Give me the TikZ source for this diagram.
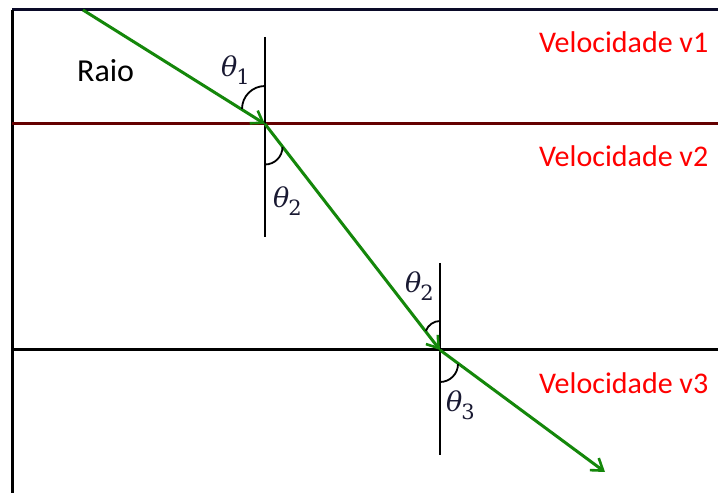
\documentclass[tikz,border=0pt]{standalone}
\usepackage{fontspec}
\setmainfont{Carlito}
\newfontfamily\thfont{DejaVu Serif}
\usetikzlibrary{arrows.meta}
\definecolor{raygreen}{RGB}{20,135,10}
\definecolor{maroonline}{RGB}{100,0,0}
\definecolor{navyline}{RGB}{10,10,40}
\definecolor{thetacol}{RGB}{25,25,50}
\newcommand{\thsym}[1]{{\itshape θ}\kern-1pt\raisebox{-8pt}{\upshape\fontsize{21}{21}\selectfont #1}}
\begin{document}
\begin{tikzpicture}[x=1pt,y=1pt,
  ray/.style={draw=raygreen,line width=3pt,-{Straight Barb[length=11pt,width=15pt,line width=2.6pt]}},
  normal/.style={draw=black,line width=1.1pt},
  anglearc/.style={draw=black,line width=1.8pt},
  vlabel/.style={anchor=base west,inner sep=0pt,text=red,font=\fontsize{30}{34}\selectfont},
  thlabel/.style={anchor=base west,inner sep=0pt,text=thetacol,font=\thfont\fontsize{27}{30}\selectfont}
]
\useasboundingbox[fill=white] (0,0) rectangle (718,493);
% frame and interfaces
\coordinate (TL) at (12,483);
\coordinate (TR) at (718,483);
\coordinate (BL) at (12,0);
\coordinate (L1a) at (12,369);
\coordinate (L1b) at (718,369);
\coordinate (L2a) at (12,143);
\coordinate (L2b) at (718,143);
\draw[navyline,line width=3pt] (TL) -- (TR);
\draw[black,line width=3pt] (TL) -- (BL);
\draw[maroonline,line width=3pt] (L1a) -- (L1b);
\draw[black,line width=3pt] (L2a) -- (L2b);
% normals
\coordinate (N1a) at (265,456);
\coordinate (N1b) at (265,256);
\coordinate (N2a) at (440,230);
\coordinate (N2b) at (440,38);
\draw[normal] (N1a) -- (N1b);
\draw[normal] (N2a) -- (N2b);
% ray
\coordinate (P0) at (83,483);
\coordinate (P1) at (265,369);
\coordinate (P2) at (440,143);
\coordinate (P3) at (605,21);
\draw[ray] (P0) -- (P1);
\draw[ray] (P1) -- (P2);
\draw[ray] (P2) -- (P3);
% angle arcs
\draw[anglearc] (265,407) arc[start angle=90,end angle=180,radius=23];
\draw[anglearc] (265,328.5) arc[start angle=270,end angle=360,radius=17.5];
\draw[anglearc] (440,172) arc[start angle=90,end angle=160,radius=15];
\draw[anglearc] (440,111) arc[start angle=270,end angle=360,radius=18];
% labels
\node[anchor=base west,inner sep=0pt,font=\fontsize{32}{36}\selectfont] (raio) at (77,411) {Raio};
\node[vlabel] (v1) at (539,440) {Velocidade v1};
\node[vlabel] (v2) at (539,326) {Velocidade v2};
\node[vlabel] (v3) at (539,99) {Velocidade v3};
\node[thlabel] (t1) at (221,416) {\thsym{1}};
\node[thlabel] (t2a) at (273,285) {\thsym{2}};
\node[thlabel] (t2b) at (405,200) {\thsym{2}};
\node[thlabel] (t3) at (446,81) {\thsym{3}};
\end{tikzpicture}
\end{document}
